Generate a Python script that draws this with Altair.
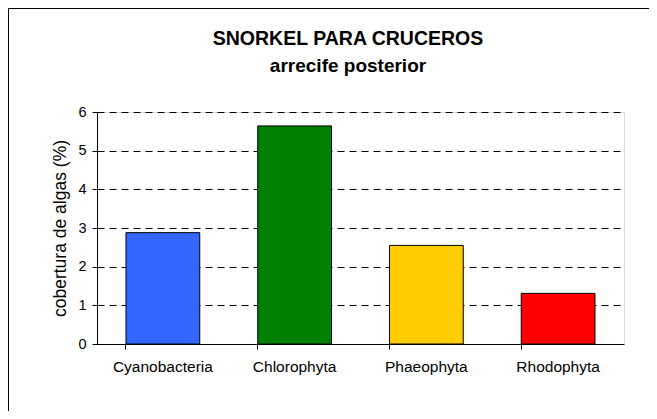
import altair as alt
import pandas as pd

categories = ["Cyanobacteria", "Chlorophyta", "Phaeophyta", "Rhodophyta"]
values = [2.88, 5.64, 2.55, 1.31]
colors = ["#3366FF", "#008000", "#FFCC00", "#FF0000"]
y_ticks = [0, 1, 2, 3, 4, 5, 6]

FONT = "Liberation Sans"
W, H = 527, 232
PAD = {"left": 89, "top": 104, "right": 25, "bottom": 67}

df = pd.DataFrame({"grupo": categories, "valor": values, "color": colors})

bars = alt.Chart(df).mark_bar(stroke="black", strokeWidth=1).encode(
    x=alt.X("grupo:N", sort=categories,
            scale=alt.Scale(paddingInner=0.44, paddingOuter=0.22),
            axis=alt.Axis(title=None, labelAngle=0, labelFontSize=15.5, labelFont=FONT,
                          labelColor="black", labelPadding=10, tickSize=5,
                          tickColor="black", domainColor="black", bandPosition=0,
                          grid=False)),
    y=alt.Y("valor:Q", scale=alt.Scale(domain=[0, 6], nice=False),
            axis=alt.Axis(title="cobertura de algas (%)", values=y_ticks, format="d",
                          titleFontSize=17.5, titleFont=FONT, titleFontWeight="normal",
                          titleColor="black", titlePadding=8,
                          labelFontSize=14.5, labelFont=FONT, labelColor="black",
                          labelPadding=6, tickSize=5, tickColor="black",
                          domainColor="black", grid=True, gridColor="black",
                          gridDash=[7, 5], gridWidth=1)),
    color=alt.Color("color:N", scale=None),
)

frame_df = pd.DataFrame({"k": [0]})
frame_left = alt.Chart(frame_df).mark_rule(color="black", strokeWidth=1).encode(
    x=alt.value(-PAD["left"] + 0.5), y=alt.value(-PAD["top"] + 0.5),
    y2=alt.value(H + PAD["bottom"]))
frame_top = alt.Chart(frame_df).mark_rule(color="black", strokeWidth=1).encode(
    x=alt.value(-PAD["left"] + 0.5), x2=alt.value(W + PAD["right"]),
    y=alt.value(-PAD["top"] + 0.5))

chart = alt.layer(bars, frame_left, frame_top).properties(
    width=W, height=H,
    autosize=alt.AutoSizeParams(type="none"),
    padding=PAD,
    title=alt.TitleParams(
        text="SNORKEL PARA CRUCEROS", subtitle="arrecife posterior",
        font=FONT, subtitleFont=FONT, fontSize=19.5, subtitleFontSize=19,
        fontWeight="bold", subtitleFontWeight="bold", color="black",
        subtitleColor="black", anchor="middle", frame="group",
        offset=34, dx=-12.5, dy=103, subtitlePadding=8),
).configure_view(stroke="#808080", strokeWidth=1).configure(background="white")

chart.save("out.html", embed_options={"renderer": "svg", "actions": False})
